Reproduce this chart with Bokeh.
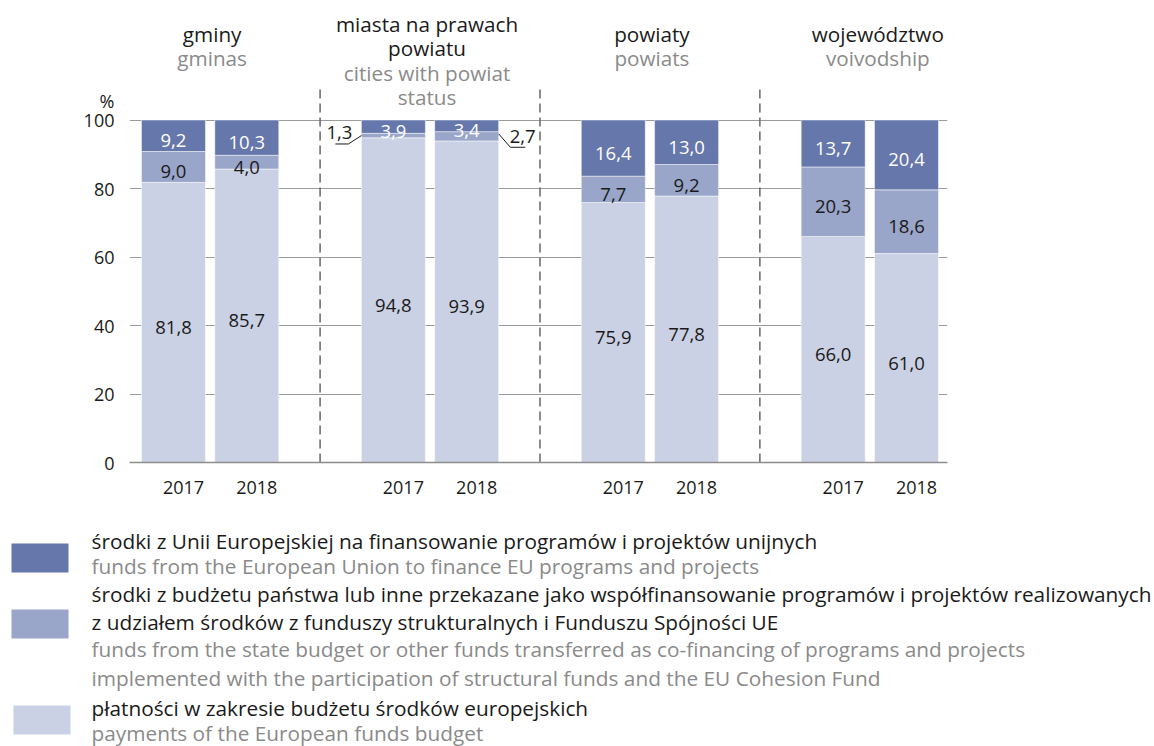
from bokeh.plotting import figure
from bokeh.models import Range1d, FixedTicker, ColumnDataSource
from bokeh.layouts import column
from bokeh.embed import file_html
from bokeh.resources import INLINE
from bokeh.core.properties import value

# ---------------- data ----------------
groups_pl = [["gminy"], ["miasta na prawach", "powiatu"], ["powiaty"], ["województwo"]]
groups_en = [["gminas"], ["cities with powiat", "status"], ["powiats"], ["voivodship"]]
years = ["2017", "2018"]
payments = [81.8, 85.7, 94.8, 93.9, 75.9, 77.8, 66.0, 61.0]
cofinancing = [9.0, 4.0, 1.3, 2.7, 7.7, 9.2, 20.3, 18.6]
eu_funds = [9.2, 10.3, 3.9, 3.4, 16.4, 13.0, 13.7, 20.4]
y_ticks = [0, 20, 40, 60, 80, 100]
y_unit = "%"
series_pl = [
    ["środki z Unii Europejskiej na finansowanie programów i projektów unijnych"],
    ["środki z budżetu państwa lub inne przekazane jako współfinansowanie programów i projektów realizowanych",
     "z udziałem środków z funduszy strukturalnych i Funduszu Spójności UE"],
    ["płatności w zakresie budżetu środków europejskich"],
]
series_en = [
    ["funds from the European Union to finance EU programs and projects"],
    ["funds from the state budget or other funds transferred as co-financing of programs and projects",
     "implemented with the participation of structural funds and the EU Cohesion Fund"],
    ["payments of the European funds budget"],
]

# ---------------- style ----------------
FONT = "Open Sans"
C_DARK, C_MED, C_LIGHT = "#6677ab", "#99a5c9", "#cbd1e4"
C_TEXT, C_GREY = "#1a1a1a", "#8a8a8a"
PX_X = 73.3      # px per x unit
PX_Y = 3.425     # px per y unit
BAR_W = 0.873
FS_TICK = "18px"
FS_VAL = "18.5px"
FS_HEAD = "20.7px"
FS_LEG = "20.8px"

FRAME_LEFT, FRAME_RIGHT, FRAME_BOTTOM = 129, 947, 462
W, H = 1154, 505

def y_of_page(py):
    return (FRAME_BOTTOM - py) / PX_Y

xs = [3 * g + j for g in range(4) for j in range(2)]

x0 = -0.6
p = figure(width=W, height=H,
           x_range=Range1d(x0, x0 + (FRAME_RIGHT - FRAME_LEFT) / PX_X),
           y_range=Range1d(0, FRAME_BOTTOM / PX_Y),
           output_backend="svg", toolbar_location=None, frame_align=False,
           min_border_left=FRAME_LEFT, min_border_right=W - FRAME_RIGHT,
           min_border_top=0, min_border_bottom=H - FRAME_BOTTOM)
p.outline_line_color = None
p.background_fill_color = "white"
p.xgrid.grid_line_color = None
p.ygrid.ticker = FixedTicker(ticks=y_ticks)
p.ygrid.grid_line_color = "#9a9a9a"
p.ygrid.grid_line_width = 1.2

unit_pos = y_of_page(100)
p.yaxis.ticker = FixedTicker(ticks=y_ticks + [unit_pos])
overrides = {t: str(t) for t in y_ticks}
overrides[unit_pos] = y_unit
p.yaxis.major_label_overrides = overrides
p.yaxis.axis_line_color = None
p.yaxis.major_tick_line_color = None
p.yaxis.minor_tick_line_color = None
p.yaxis.major_tick_out = 0
p.yaxis.major_tick_in = 0
p.yaxis.major_label_standoff = 15
p.yaxis.major_label_text_font = FONT
p.yaxis.major_label_text_font_size = FS_TICK
p.yaxis.major_label_text_color = C_TEXT

tick_pos = [x + 10 / PX_X for x in xs]
p.xaxis.ticker = FixedTicker(ticks=tick_pos)
p.xaxis.major_label_overrides = {t: years[i % 2] for i, t in enumerate(tick_pos)}
p.xaxis.axis_line_color = "#8c8c8c"
p.xaxis.axis_line_width = 1.5
p.xaxis.major_tick_line_color = None
p.xaxis.minor_tick_line_color = None
p.xaxis.major_tick_out = 0
p.xaxis.major_tick_in = 0
p.xaxis.major_label_standoff = 18
p.xaxis.major_label_text_font = FONT
p.xaxis.major_label_text_font_size = FS_TICK
p.xaxis.major_label_text_color = C_TEXT

src = ColumnDataSource(dict(x=xs, payments=payments, cofinancing=cofinancing, eu_funds=eu_funds))
p.vbar_stack(["payments", "cofinancing", "eu_funds"], x="x", width=BAR_W, source=src,
             color=[C_LIGHT, C_MED, C_DARK], line_color="white", line_width=0.5)

# group separators
sep_x = [3 * g - 1 for g in range(1, 4)]
p.segment(x0=sep_x, y0=[0] * 3, x1=sep_x, y1=[110] * 3, line_color="#666666",
          line_width=1.5, line_dash="9 5")

# value labels
in_x, in_y, in_t, in_c = [], [], [], []
out_x, out_y, out_t, out_xo, out_yo = [], [], [], [], []
lead_xs, lead_ys = [], []
for i, x in enumerate(xs):
    segs = [(payments[i], C_TEXT), (cofinancing[i], C_TEXT), (eu_funds[i], "white")]
    base = 0.0
    for k, (v, col) in enumerate(segs):
        mid = base + v / 2
        lab = f"{v:.1f}".replace(".", ",")
        if k == 1 and v < 3:
            side = -1 if i % 2 == 0 else 1
            edge = x + side * BAR_W / 2
            out_x.append(x); out_y.append(mid); out_t.append(lab)
            if side < 0:
                out_xo.append(-54); out_yo.append(-3)
                lead_xs.append([edge, edge - 13 / PX_X, edge - 26 / PX_X])
                lead_ys.append([mid, mid - 8.4 / PX_Y, mid - 8.4 / PX_Y])
            else:
                out_xo.append(56); out_yo.append(0)
                lead_xs.append([edge, edge + 11.7 / PX_X, edge + 26.7 / PX_X])
                lead_ys.append([mid + 0.7, mid + 0.7 - 13.4 / PX_Y, mid + 0.7 - 13.4 / PX_Y])
        else:
            in_x.append(x); in_y.append(mid); in_t.append(lab); in_c.append(col)
        base += v

p.text(x=in_x, y=in_y, text=in_t, text_color=in_c, text_align="center",
       text_baseline="middle", y_offset=5, text_font=value(FONT), text_font_size=FS_VAL)
p.text(x=out_x, y=out_y, text=out_t, x_offset=out_xo, y_offset=out_yo, text_color=C_TEXT,
       text_align="center", text_baseline="middle", text_font=value(FONT), text_font_size=FS_VAL)
p.multi_line(xs=lead_xs, ys=lead_ys, line_color=C_TEXT, line_width=1)

# headers
head_top = [33, 23, 33, 33]
head_dx = [2, -3, 2, 8]
hx, hy, ht, hc, hxo = [], [], [], [], []
for g in range(4):
    lines = [(t, C_TEXT) for t in groups_pl[g]] + [(t, C_GREY) for t in groups_en[g]]
    for li, (t, col) in enumerate(lines):
        hx.append(3 * g + 0.5); hy.append(y_of_page(head_top[g] + 24.5 * li))
        ht.append(t); hc.append(col); hxo.append(head_dx[g])
p.text(x=hx, y=hy, text=ht, text_color=hc, x_offset=hxo, text_align="center",
       text_baseline="middle", text_font=value(FONT), text_font_size=FS_HEAD)

# ---------------- legend figure ----------------
LW, LH = 1154, 241
lg = figure(width=LW, height=LH, x_range=Range1d(0, LW), y_range=Range1d(LH, 0),
            output_backend="svg", toolbar_location=None, frame_align=False,
            min_border=0, min_border_left=0, min_border_right=0,
            min_border_top=0, min_border_bottom=0)
lg.axis.visible = False
lg.grid.visible = False
lg.outline_line_color = None

sw_left = [11, 11, 13]
sw_top = [38, 104, 200]
sw_colors = [C_DARK, C_MED, C_LIGHT]
lg.quad(left=sw_left, right=[l + 57 for l in sw_left], top=sw_top, bottom=[t + 29 for t in sw_top],
        color=sw_colors, line_color=None)

line_y = [35, 60, 88.3, 116, 143.3, 172.8, 202.3, 227.5]
tx, ty, tt, tc = [], [], [], []
li = 0
for s in range(3):
    for t in series_pl[s]:
        tx.append(91); ty.append(line_y[li]); tt.append(t); tc.append(C_TEXT); li += 1
    for t in series_en[s]:
        tx.append(91); ty.append(line_y[li]); tt.append(t); tc.append(C_GREY); li += 1
lg.text(x=tx, y=ty, text=tt, text_color=tc, text_align="left", text_baseline="middle",
        text_font=value(FONT), text_font_size=FS_LEG)

layout = column(p, lg, spacing=0)
open("out.html", "w").write(file_html(layout, INLINE))
